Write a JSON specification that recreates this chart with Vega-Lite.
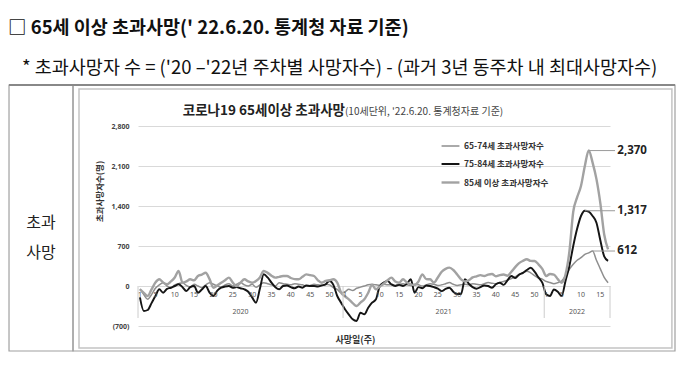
{
  "$schema": "https://vega.github.io/schema/vega-lite/v6.json",
  "background": "white",
  "padding": {"left": 8, "top": 18, "right": 4, "bottom": 0},
  "title": {
    "text": "□ 65세 이상 초과사망(' 22.6.20. 통계청 자료 기준)",
    "subtitle": "\u2800* 초과사망자 수 = ('20 –'22년 주차별 사망자수)  -  (과거 3년 동주차 내 최대사망자수)",
    "anchor": "start",
    "font": "Noto Sans CJK KR",
    "fontSize": 18.5,
    "fontWeight": "bold",
    "color": "#111111",
    "subtitleFont": "Noto Sans CJK KR",
    "subtitleFontSize": 18.5,
    "subtitleColor": "#111111",
    "subtitlePadding": 21,
    "offset": 7
  },
  "width": 472,
  "height": 200,
  "layer": [
    {
      "data": {"values": [
        {"i":1,"a":-50,"b":-200,"c":-60},{"i":2,"a":-150,"b":-437,"c":-120},{"i":3,"a":-233,"b":-420,"c":-175},{"i":4,"a":-150,"b":-300,"c":-60},{"i":5,"a":-40,"b":-175,"c":60},
        {"i":6,"a":20,"b":-58,"c":117},{"i":7,"a":58,"b":-117,"c":60},{"i":8,"a":0,"b":-50,"c":30},{"i":9,"a":-30,"b":-30,"c":80},{"i":10,"a":20,"b":0,"c":150},
        {"i":11,"a":40,"b":30,"c":262},{"i":12,"a":58,"b":-20,"c":60},{"i":13,"a":10,"b":-88,"c":80},{"i":14,"a":-20,"b":-20,"c":117},{"i":15,"a":30,"b":0,"c":100},
        {"i":16,"a":0,"b":-117,"c":175},{"i":17,"a":-30,"b":-60,"c":200},{"i":18,"a":20,"b":0,"c":233},{"i":19,"a":58,"b":-117,"c":120},{"i":20,"a":30,"b":-175,"c":-30},
        {"i":21,"a":0,"b":-80,"c":10},{"i":22,"a":-20,"b":-30,"c":58},{"i":23,"a":20,"b":-10,"c":100},{"i":24,"a":40,"b":0,"c":146},{"i":25,"a":0,"b":-30,"c":60},
        {"i":26,"a":30,"b":-20,"c":0},{"i":27,"a":60,"b":-40,"c":60},{"i":28,"a":20,"b":-58,"c":117},{"i":29,"a":0,"b":-100,"c":80},{"i":30,"a":30,"b":-200,"c":58},
        {"i":31,"a":-20,"b":-292,"c":88},{"i":32,"a":20,"b":-50,"c":150},{"i":33,"a":58,"b":204,"c":262},{"i":34,"a":40,"b":150,"c":230},{"i":35,"a":20,"b":58,"c":180},
        {"i":36,"a":0,"b":-20,"c":146},{"i":37,"a":58,"b":-58,"c":160},{"i":38,"a":40,"b":0,"c":175},{"i":39,"a":30,"b":10,"c":175},{"i":40,"a":20,"b":-20,"c":140},
        {"i":41,"a":40,"b":-40,"c":120},{"i":42,"a":30,"b":-10,"c":117},{"i":43,"a":20,"b":-30,"c":160},{"i":44,"a":0,"b":10,"c":204},{"i":45,"a":10,"b":0,"c":190},
        {"i":46,"a":30,"b":0,"c":175},{"i":47,"a":20,"b":-10,"c":100},{"i":48,"a":10,"b":10,"c":58},{"i":49,"a":30,"b":30,"c":88},{"i":50,"a":20,"b":88,"c":100},
        {"i":51,"a":-30,"b":20,"c":117},{"i":52,"a":-60,"b":-175,"c":60},{"i":53,"a":-117,"b":-292,"c":-117},
        {"i":54,"a":-100,"b":-408,"c":-180},{"i":55,"a":-58,"b":-500,"c":-233},{"i":56,"a":-80,"b":-583,"c":-300},{"i":57,"a":-40,"b":-612,"c":-350},{"i":58,"a":-20,"b":-467,"c":-290},
        {"i":59,"a":0,"b":-496,"c":-233},{"i":60,"a":20,"b":-380,"c":-120},{"i":61,"a":30,"b":-292,"c":20},{"i":62,"a":20,"b":-233,"c":-58},{"i":63,"a":10,"b":0,"c":-10},
        {"i":64,"a":30,"b":60,"c":40},{"i":65,"a":20,"b":88,"c":100},{"i":66,"a":20,"b":30,"c":146},{"i":67,"a":10,"b":0,"c":80},{"i":68,"a":30,"b":20,"c":58},
        {"i":69,"a":40,"b":0,"c":117},{"i":70,"a":20,"b":40,"c":60},{"i":71,"a":10,"b":117,"c":30},{"i":72,"a":30,"b":-117,"c":20},{"i":73,"a":20,"b":-20,"c":80},
        {"i":74,"a":0,"b":-40,"c":204},{"i":75,"a":20,"b":10,"c":120},{"i":76,"a":40,"b":0,"c":117},{"i":77,"a":30,"b":-20,"c":60},{"i":78,"a":10,"b":-47,"c":150},
        {"i":79,"a":20,"b":-90,"c":250},{"i":80,"a":40,"b":-50,"c":300},{"i":81,"a":60,"b":-30,"c":321},{"i":82,"a":30,"b":-100,"c":280},{"i":83,"a":10,"b":-140,"c":200},
        {"i":84,"a":20,"b":-140,"c":117},{"i":85,"a":30,"b":117,"c":80},{"i":86,"a":20,"b":40,"c":100},{"i":87,"a":40,"b":-20,"c":150},{"i":88,"a":30,"b":-47,"c":170},
        {"i":89,"a":20,"b":-20,"c":190},{"i":90,"a":40,"b":10,"c":175},{"i":91,"a":60,"b":0,"c":200},{"i":92,"a":50,"b":-30,"c":210},{"i":93,"a":40,"b":30,"c":170},
        {"i":94,"a":60,"b":58,"c":190},{"i":95,"a":80,"b":20,"c":200},{"i":96,"a":100,"b":100,"c":180},{"i":97,"a":130,"b":175,"c":250},{"i":98,"a":160,"b":140,"c":330},
        {"i":99,"a":200,"b":200,"c":400},{"i":100,"a":230,"b":230,"c":440},{"i":101,"a":260,"b":280,"c":467},{"i":102,"a":230,"b":321,"c":440},{"i":103,"a":180,"b":250,"c":437},
        {"i":104,"a":140,"b":150,"c":380},{"i":105,"a":120,"b":58,"c":300},
        {"i":106,"a":80,"b":-145,"c":175},{"i":107,"a":60,"b":-175,"c":210},{"i":108,"a":40,"b":-60,"c":200},{"i":109,"a":58,"b":-100,"c":120},{"i":110,"a":88,"b":-175,"c":58},
        {"i":111,"a":175,"b":88,"c":200},{"i":112,"a":292,"b":350,"c":600},{"i":113,"a":380,"b":700,"c":1300},{"i":114,"a":450,"b":1000,"c":1550},{"i":115,"a":496,"b":1225,"c":1750},
        {"i":116,"a":554,"b":1317,"c":2100},{"i":117,"a":580,"b":1300,"c":2370},{"i":118,"a":612,"b":1225,"c":2160},{"i":119,"a":450,"b":1108,"c":1870},{"i":120,"a":300,"b":800,"c":1450},
        {"i":121,"a":150,"b":520,"c":900},{"i":122,"a":58,"b":440,"c":640}
      ]},
      "transform": [{"fold": ["a", "b", "c"], "as": ["s", "v"]}],
      "mark": {"type": "line", "interpolate": "monotone"},
      "encoding": {
        "x": {"field": "i", "type": "quantitative", "scale": {"domain": [0.5, 122.5], "nice": false, "zero": false},
              "axis": {"title": "사망일(주)", "titleX": 217}},
        "y": {"field": "v", "type": "quantitative", "scale": {"domain": [-700, 2800], "nice": false, "zero": false},
              "axis": {"title": "초과사망자수(명)", "values": [-700, 0, 700, 1400, 2100, 2800], "grid": true, "labelOverlap": false, "titleY": 65,
                       "labelExpr": "datum.value < 0 ? '(' + format(-datum.value, ',') + ')' : format(datum.value, ',')"}},
        "color": {"field": "s", "type": "nominal",
                  "scale": {"domain": ["a", "b", "c"], "range": ["#8e8e8e", "#151515", "#a2a2a2"]},
                  "legend": {"labelExpr": "{'a': '65-74세 초과사망자수', 'b': '75-84세 초과사망자수', 'c': '85세 이상 초과사망자수'}[datum.label]"}},
        "strokeWidth": {"field": "s", "type": "nominal", "scale": {"domain": ["a", "b", "c"], "range": [1.5, 2.4, 1.5]}, "legend": null}
      }
    },
    {
      "data": {"values": [{}]},
      "mark": {"type": "rect", "fill": "transparent", "stroke": "#a0a0a0", "strokeWidth": 1.2},
      "encoding": {
        "x": {"datum": -32.84, "type": "quantitative", "scale": {"domain": [0.5, 122.5], "nice": false, "zero": false}, "axis": {"title": "사망일(주)", "titleX": 217}},
        "x2": {"datum": -16.3},
        "y": {"datum": 3517.5, "type": "quantitative", "scale": {"domain": [-700, 2800], "nice": false, "zero": false},
              "axis": {"title": "초과사망자수(명)", "values": [-700, 0, 700, 1400, 2100, 2800], "grid": true, "labelOverlap": false, "titleY": 65,
                       "labelExpr": "datum.value < 0 ? '(' + format(-datum.value, ',') + ')' : format(datum.value, ',')"}},
        "y2": {"datum": -1137.5}
      }
    },
    {
      "data": {"values": [{}]},
      "mark": {"type": "rect", "fill": "transparent", "stroke": "#a0a0a0", "strokeWidth": 1.2},
      "encoding": {
        "x": {"datum": -16.3, "type": "quantitative", "scale": {"domain": [0.5, 122.5], "nice": false, "zero": false}, "axis": {"title": "사망일(주)", "titleX": 217}},
        "x2": {"datum": 139.3},
        "y": {"datum": 3517.5, "type": "quantitative", "scale": {"domain": [-700, 2800], "nice": false, "zero": false},
              "axis": {"title": "초과사망자수(명)", "values": [-700, 0, 700, 1400, 2100, 2800], "grid": true, "labelOverlap": false, "titleY": 65,
                       "labelExpr": "datum.value < 0 ? '(' + format(-datum.value, ',') + ')' : format(datum.value, ',')"}},
        "y2": {"datum": -1137.5}
      }
    },
    {
      "data": {"values": [{}]},
      "mark": {"type": "rule", "color": "#888888", "strokeWidth": 2},
      "encoding": {
        "x": {"datum": -32.84, "type": "quantitative", "scale": {"domain": [0.5, 122.5], "nice": false, "zero": false}, "axis": {"title": "사망일(주)", "titleX": 217}},
        "x2": {"datum": 139.3},
        "y": {"datum": 3517.5, "type": "quantitative", "scale": {"domain": [-700, 2800], "nice": false, "zero": false},
              "axis": {"title": "초과사망자수(명)", "values": [-700, 0, 700, 1400, 2100, 2800], "grid": true, "labelOverlap": false, "titleY": 65,
                       "labelExpr": "datum.value < 0 ? '(' + format(-datum.value, ',') + ')' : format(datum.value, ',')"}}
      }
    },
    {
      "data": {"values": [{}]},
      "mark": {"type": "rect", "fill": "transparent", "stroke": "#c4c4c4", "strokeWidth": 1.5},
      "encoding": {
        "x": {"datum": -14.75, "type": "quantitative", "scale": {"domain": [0.5, 122.5], "nice": false, "zero": false}, "axis": {"title": "사망일(주)", "titleX": 217}},
        "x2": {"datum": 138.5},
        "y": {"datum": 3447.5, "type": "quantitative", "scale": {"domain": [-700, 2800], "nice": false, "zero": false},
              "axis": {"title": "초과사망자수(명)", "values": [-700, 0, 700, 1400, 2100, 2800], "grid": true, "labelOverlap": false, "titleY": 65,
                       "labelExpr": "datum.value < 0 ? '(' + format(-datum.value, ',') + ')' : format(datum.value, ',')"}},
        "y2": {"datum": -1085}
      }
    },
    {
      "data": {"values": [{"t": "초과\n사망"}]},
      "mark": {"type": "text", "lineBreak": "\n", "fontSize": 16, "lineHeight": 30, "color": "#222222", "font": "Noto Sans CJK KR", "baseline": "middle"},
      "encoding": {
        "x": {"datum": -24.57, "type": "quantitative", "scale": {"domain": [0.5, 122.5], "nice": false, "zero": false}, "axis": {"title": "사망일(주)", "titleX": 217}},
        "y": {"datum": 1102, "type": "quantitative", "scale": {"domain": [-700, 2800], "nice": false, "zero": false},
              "axis": {"title": "초과사망자수(명)", "values": [-700, 0, 700, 1400, 2100, 2800], "grid": true, "labelOverlap": false, "titleY": 65,
                       "labelExpr": "datum.value < 0 ? '(' + format(-datum.value, ',') + ')' : format(datum.value, ',')"}},
        "text": {"field": "t", "type": "nominal"}
      }
    },
    {
      "data": {"values": [{"t": "코로나19 65세이상 초과사망"}]},
      "mark": {"type": "text", "align": "right", "baseline": "alphabetic", "fontSize": 13.5, "fontWeight": "bold", "color": "#222222", "font": "Noto Sans CJK KR"},
      "encoding": {
        "x": {"datum": 54, "type": "quantitative", "scale": {"domain": [0.5, 122.5], "nice": false, "zero": false}, "axis": {"title": "사망일(주)", "titleX": 217}},
        "y": {"datum": 2990, "type": "quantitative", "scale": {"domain": [-700, 2800], "nice": false, "zero": false},
              "axis": {"title": "초과사망자수(명)", "values": [-700, 0, 700, 1400, 2100, 2800], "grid": true, "labelOverlap": false, "titleY": 65,
                       "labelExpr": "datum.value < 0 ? '(' + format(-datum.value, ',') + ')' : format(datum.value, ',')"}},
        "text": {"field": "t", "type": "nominal"}
      }
    },
    {
      "data": {"values": [{"t": "(10세단위, '22.6.20. 통계청자료 기준)"}]},
      "mark": {"type": "text", "align": "left", "baseline": "alphabetic", "fontSize": 10, "color": "#444444", "font": "Noto Sans CJK KR"},
      "encoding": {
        "x": {"datum": 54, "type": "quantitative", "scale": {"domain": [0.5, 122.5], "nice": false, "zero": false}, "axis": {"title": "사망일(주)", "titleX": 217}},
        "y": {"datum": 2990, "type": "quantitative", "scale": {"domain": [-700, 2800], "nice": false, "zero": false},
              "axis": {"title": "초과사망자수(명)", "values": [-700, 0, 700, 1400, 2100, 2800], "grid": true, "labelOverlap": false, "titleY": 65,
                       "labelExpr": "datum.value < 0 ? '(' + format(-datum.value, ',') + ')' : format(datum.value, ',')"}},
        "text": {"field": "t", "type": "nominal"}
      }
    },
    {
      "data": {"values": [{"i": 0.5}, {"i": 53.5}, {"i": 105.5}, {"i": 122.5}]},
      "mark": {"type": "rule", "color": "#cccccc", "strokeWidth": 1},
      "encoding": {
        "x": {"field": "i", "type": "quantitative", "scale": {"domain": [0.5, 122.5], "nice": false, "zero": false}, "axis": {"title": "사망일(주)", "titleX": 217}},
        "y": {"datum": 0, "type": "quantitative", "scale": {"domain": [-700, 2800], "nice": false, "zero": false},
              "axis": {"title": "초과사망자수(명)", "values": [-700, 0, 700, 1400, 2100, 2800], "grid": true, "labelOverlap": false, "titleY": 65,
                       "labelExpr": "datum.value < 0 ? '(' + format(-datum.value, ',') + ')' : format(datum.value, ',')"}},
        "y2": {"datum": -560}
      }
    },
    {
      "data": {"values": [
        {"i": 1, "w": "1"}, {"i": 5, "w": "5"}, {"i": 10, "w": "10"}, {"i": 15, "w": "15"}, {"i": 20, "w": "20"}, {"i": 25, "w": "25"},
        {"i": 30, "w": "30"}, {"i": 35, "w": "35"}, {"i": 40, "w": "40"}, {"i": 45, "w": "45"}, {"i": 50, "w": "50"},
        {"i": 54, "w": "1"}, {"i": 58, "w": "5"}, {"i": 63, "w": "10"}, {"i": 68, "w": "15"}, {"i": 73, "w": "20"}, {"i": 78, "w": "25"},
        {"i": 83, "w": "30"}, {"i": 88, "w": "35"}, {"i": 93, "w": "40"}, {"i": 98, "w": "45"}, {"i": 103, "w": "50"},
        {"i": 106, "w": "1"}, {"i": 110, "w": "5"}, {"i": 115, "w": "10"}, {"i": 120, "w": "15"}
      ]},
      "mark": {"type": "text", "fontSize": 7, "color": "#555555", "font": "Noto Sans", "baseline": "middle", "dy": 9},
      "encoding": {
        "x": {"field": "i", "type": "quantitative", "scale": {"domain": [0.5, 122.5], "nice": false, "zero": false}, "axis": {"title": "사망일(주)", "titleX": 217}},
        "y": {"datum": 0, "type": "quantitative", "scale": {"domain": [-700, 2800], "nice": false, "zero": false},
              "axis": {"title": "초과사망자수(명)", "values": [-700, 0, 700, 1400, 2100, 2800], "grid": true, "labelOverlap": false, "titleY": 65,
                       "labelExpr": "datum.value < 0 ? '(' + format(-datum.value, ',') + ')' : format(datum.value, ',')"}},
        "text": {"field": "w", "type": "nominal"}
      }
    },
    {
      "data": {"values": [{"i": 27, "yr": "2020"}, {"i": 79.5, "yr": "2021"}, {"i": 114, "yr": "2022"}]},
      "mark": {"type": "text", "fontSize": 7, "color": "#555555", "font": "Noto Sans", "baseline": "middle", "dy": 26},
      "encoding": {
        "x": {"field": "i", "type": "quantitative", "scale": {"domain": [0.5, 122.5], "nice": false, "zero": false}, "axis": {"title": "사망일(주)", "titleX": 217}},
        "y": {"datum": 0, "type": "quantitative", "scale": {"domain": [-700, 2800], "nice": false, "zero": false},
              "axis": {"title": "초과사망자수(명)", "values": [-700, 0, 700, 1400, 2100, 2800], "grid": true, "labelOverlap": false, "titleY": 65,
                       "labelExpr": "datum.value < 0 ? '(' + format(-datum.value, ',') + ')' : format(datum.value, ',')"}},
        "text": {"field": "yr", "type": "nominal"}
      }
    },
    {
      "data": {"values": [{"i": 117, "v": 2370, "t": "2,370"}, {"i": 116, "v": 1317, "t": "1,317"}, {"i": 118, "v": 612, "t": "612"}]},
      "mark": {"type": "rule", "color": "#9a9a9a", "strokeWidth": 1},
      "encoding": {
        "x": {"field": "i", "type": "quantitative", "scale": {"domain": [0.5, 122.5], "nice": false, "zero": false}, "axis": {"title": "사망일(주)", "titleX": 217}},
        "x2": {"datum": 123.8},
        "y": {"field": "v", "type": "quantitative", "scale": {"domain": [-700, 2800], "nice": false, "zero": false},
              "axis": {"title": "초과사망자수(명)", "values": [-700, 0, 700, 1400, 2100, 2800], "grid": true, "labelOverlap": false, "titleY": 65,
                       "labelExpr": "datum.value < 0 ? '(' + format(-datum.value, ',') + ')' : format(datum.value, ',')"}}
      }
    },
    {
      "data": {"values": [{"i": 117, "v": 2370, "t": "2,370"}, {"i": 116, "v": 1317, "t": "1,317"}, {"i": 118, "v": 612, "t": "612"}]},
      "mark": {"type": "text", "align": "left", "baseline": "middle", "fontSize": 11.5, "fontWeight": "bold", "color": "#222222", "font": "Noto Sans"},
      "encoding": {
        "x": {"datum": 124.4, "type": "quantitative", "scale": {"domain": [0.5, 122.5], "nice": false, "zero": false}, "axis": {"title": "사망일(주)", "titleX": 217}},
        "y": {"field": "v", "type": "quantitative", "scale": {"domain": [-700, 2800], "nice": false, "zero": false},
              "axis": {"title": "초과사망자수(명)", "values": [-700, 0, 700, 1400, 2100, 2800], "grid": true, "labelOverlap": false, "titleY": 65,
                       "labelExpr": "datum.value < 0 ? '(' + format(-datum.value, ',') + ')' : format(datum.value, ',')"}},
        "text": {"field": "t", "type": "nominal"}
      }
    }
  ],
  "config": {
    "font": "Noto Sans CJK KR",
    "view": {"stroke": null},
    "axisY": {"grid": true, "gridColor": "#d9d9d9", "gridWidth": 1, "domain": false, "ticks": false, "labelOverlap": false,
              "labelFont": "Noto Sans", "labelFontSize": 7, "labelColor": "#444444", "labelFontWeight": "bold", "labelPadding": 9,
              "titleFont": "Noto Sans CJK KR", "titleFontSize": 8.5, "titleFontWeight": "bold", "titleColor": "#333333", "titlePadding": 6},
    "axisX": {"grid": false, "domain": false, "ticks": false, "labels": false,
              "titleFont": "Noto Sans CJK KR", "titleFontSize": 9, "titleFontWeight": "bold", "titleColor": "#333333", "titlePadding": 9},
    "legend": {"orient": "none", "legendX": 302, "legendY": 10, "title": null, "symbolType": "stroke", "symbolSize": 320,
               "symbolStrokeWidth": 2, "labelFont": "Noto Sans CJK KR", "labelFontSize": 8.5, "labelFontWeight": "bold",
               "labelColor": "#333333", "rowPadding": 3, "labelOffset": 3}
  }
}
